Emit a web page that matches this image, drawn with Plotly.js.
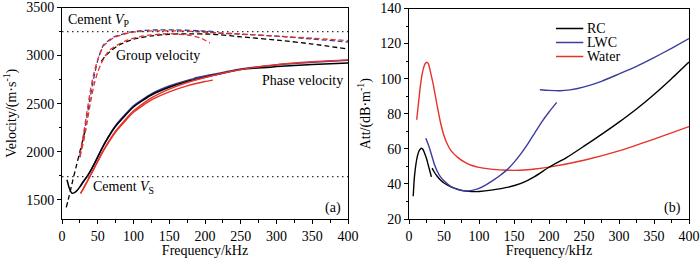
<!DOCTYPE html>
<html>
<head>
<meta charset="utf-8">
<script src="https://cdn.plot.ly/plotly-3.0.1.min.js"></script>
<style>html,body{margin:0;padding:0;background:#fff}#chart{width:700px;height:258px}</style>
</head>
<body>
<div id="chart"></div>
<script>
// ---------- (a) Velocity data ----------
// Phase velocity (solid)
const rcPhaseF   = [7,10,14,18,22,26,30,35,40,45,50,55,60,75,100,125,150,175,200,250,300,350,400];
const rcPhaseV   = [1708,1625,1568,1578,1605,1645,1690,1740,1800,1870,1945,2020,2090,2265,2465,2590,2670,2730,2775,2855,2885,2908,2922];
const lwcPhase1F = [25,30,35,40,45,50,55,60,75,100,125,150,175,200,210];
const lwcPhase1V = [1635,1693,1743,1803,1873,1948,2024,2095,2274,2478,2602,2683,2742,2786,2800];
const lwcPhase2F = [185,200,250,300,350,400];
const lwcPhase2V = [2768,2788,2860,2903,2930,2952];
const waterPhase1F = [26,30,35,40,45,50,55,60,75,100,125,150,175,200,211];
const waterPhase1V = [1565,1615,1685,1755,1825,1898,1970,2035,2205,2410,2538,2623,2685,2730,2745];
const waterPhase2F = [26,30,35,40,45,50,55,60,75,100,125,150,175,200,250,300,350,400];
const waterPhase2V = [1570,1620,1690,1760,1830,1905,1978,2042,2215,2425,2560,2652,2720,2772,2855,2905,2935,2955];
// Group velocity (dashed)
const rcGroup1F = [6,10,15,20,25,30,33];
const rcGroup1V = [1420,1540,1700,1850,2000,2150,2240];
const rcGroup2F = [55,60,70,80,100,125,150,175,211,250,305,350,400];
const rcGroup2V = [2940,2990,3060,3110,3170,3205,3222,3226,3222,3195,3158,3120,3068];
const lwcGroup1F = [25,30,35,40,44,50,58,72,95,115,137,160,185,210];
const lwcGroup1V = [1940,2150,2370,2590,2750,2950,3110,3192,3244,3262,3268,3266,3260,3252];
const lwcGroup2F = [185,211,250,305,350,400];
const lwcGroup2V = [3262,3238,3222,3200,3172,3141];
const waterGroup1F = [25,30,35,40,45,50,55,60,67,80,90,114,150,179,195,207];
const waterGroup1V = [1950,2100,2300,2520,2700,2830,2920,2990,3060,3120,3158,3205,3228,3210,3180,3130];
const waterGroup2F = [25,30,35,40,44,50,58,72,95,120,150,180,211,250,305,350,400];
const waterGroup2V = [1960,2180,2420,2650,2800,2960,3100,3185,3238,3255,3258,3252,3240,3225,3200,3180,3156];
// Reference levels
const cementVP = 3250;
const cementVS = 1740;

// ---------- (b) Attenuation data ----------
const rcAtt1F = [6,7,8,10,12,14,16,18,20,22,25,28,31,32];
const rcAtt1A = [33,40,45,51.5,55.8,58.5,59.8,60.3,59.6,57.8,54.5,50,45.5,44];
const rcAtt2F = [33,36,40,45,50,60,70,80,90,100,120,140,160,180,200,225,250,275,300,325,350,375,400];
const rcAtt2A = [49,46.8,44.5,42.2,40.5,38.3,36.9,36,35.6,35.7,36.6,38,40.3,44.3,49.5,55,61.5,68.2,75.2,82.7,91,100,109.5];
const lwcAtt1F = [24,27,30,33,36,40,45,50,60,70,80,90,100,110,120,130,140,150,160,170,180,190,200,211];
const lwcAtt1A = [66,63,59.5,55.5,51.5,47.5,44,41.8,38.5,36.8,36,36.3,37.5,39.5,42,44.8,48,52.3,57.3,63,69.3,75.5,81,86.5];
const lwcAtt2F = [187,200,216,230,249,275,300,325,350,375,400];
const lwcAtt2A = [93.7,93.3,93.1,93.6,95.2,98.5,102.7,107,112,117.3,122.9];
const waterAttF = [11,13,16,19,22,24,26,28,30,35,40,45,50,55,60,70,80,90,100,120,140,160,180,200,250,300,350,400];
const waterAttA = [76.6,84,95,103,107.6,109,109.3,108.3,105,96,85,75,67.5,62.5,59,55,52.3,50.5,49.4,48.3,47.8,47.8,48.5,49.6,53.5,58.8,65.5,72.7];

const legendNames = ['RC','LWC','Water'];

const BLACK = '#000000', BLUE = '#3c3c9c', RED = '#e5322a';
const FONT = 'Liberation Serif, Times New Roman, serif';

function line(x, y, color, dash, xa, ya, width) {
  return {x: x, y: y, type: 'scatter', mode: 'lines', xaxis: xa, yaxis: ya,
          line: {color: color, width: width || 1.4, dash: dash || 'solid', shape: 'spline', smoothing: 0.5},
          showlegend: false, hoverinfo: 'skip'};
}
const D = '5px,3px';
const traces = [
  // group velocity (dashed)
  line(lwcGroup1F, lwcGroup1V, BLUE, D, 'x', 'y', 1.3),
  line(lwcGroup2F, lwcGroup2V, BLUE, D, 'x', 'y', 1.3),
  line(rcGroup1F, rcGroup1V, BLACK, D, 'x', 'y', 1.3),
  line(rcGroup2F, rcGroup2V, BLACK, D, 'x', 'y', 1.3),
  line(waterGroup2F, waterGroup2V, RED, D, 'x', 'y', 1.3),
  line(waterGroup1F, waterGroup1V, RED, D, 'x', 'y', 1.3),
  // phase velocity (solid)
  line(lwcPhase1F, lwcPhase1V, BLUE, 'solid', 'x', 'y', 1.5),
  line(lwcPhase2F, lwcPhase2V, BLUE, 'solid', 'x', 'y', 1.5),
  line(waterPhase1F, waterPhase1V, RED, 'solid', 'x', 'y', 1.4),
  line(rcPhaseF, rcPhaseV, BLACK, 'solid', 'x', 'y', 1.5),
  line(waterPhase2F, waterPhase2V, RED, 'solid', 'x', 'y', 1.4),
  // cement reference lines
  {x: [0, 400], y: [cementVP, cementVP], type: 'scatter', mode: 'lines', xaxis: 'x', yaxis: 'y',
   line: {color: '#333', width: 1.2, dash: '1.5px,3.5px'}, showlegend: false, hoverinfo: 'skip'},
  {x: [0, 400], y: [cementVS, cementVS], type: 'scatter', mode: 'lines', xaxis: 'x', yaxis: 'y',
   line: {color: '#333', width: 1.2, dash: '1.5px,3.5px'}, showlegend: false, hoverinfo: 'skip'},
  // attenuation
  line(waterAttF, waterAttA, RED, 'solid', 'x2', 'y2', 1.4),
  line(rcAtt1F, rcAtt1A, BLACK, 'solid', 'x2', 'y2', 1.4),
  line(rcAtt2F, rcAtt2A, BLACK, 'solid', 'x2', 'y2', 1.4),
  line(lwcAtt1F, lwcAtt1A, BLUE, 'solid', 'x2', 'y2', 1.4),
  line(lwcAtt2F, lwcAtt2A, BLUE, 'solid', 'x2', 'y2', 1.4)
];

const tickFont = {family: FONT, size: 14, color: '#000'};
function xax(domain, anchor) {
  return {domain: domain, anchor: anchor, range: [0, 400], dtick: 50, tick0: 0,
    ticks: 'outside', ticklen: 4, tickwidth: 1, tickcolor: '#000',
    minor: {ticks: 'outside', ticklen: 2.5, dtick: 25, tickcolor: '#000', tickwidth: 1},
    showline: true, linecolor: '#000', linewidth: 1, mirror: true,
    showgrid: false, zeroline: false, tickfont: tickFont, automargin: false,
    title: {text: 'Frequency/kHz', font: {family: FONT, size: 14, color: '#000'}, standoff: 2}};
}
function yax(domain, anchor, range, dtick, minorD, title, standoff) {
  return {domain: domain, anchor: anchor, range: range, dtick: dtick,
    ticks: 'outside', ticklen: 4, tickwidth: 1, tickcolor: '#000',
    minor: {ticks: 'outside', ticklen: 2.5, dtick: minorD, tickcolor: '#000', tickwidth: 1},
    showline: true, linecolor: '#000', linewidth: 1, mirror: true,
    showgrid: false, zeroline: false, tickfont: tickFont, automargin: false,
    title: {text: title, font: {family: FONT, size: 14, color: '#000'}, standoff: standoff}};
}

const annFont = {family: FONT, size: 14, color: '#000'};
function ann(text, x, y, xa, ya, xanchor) {
  return {text: text, x: x, y: y, xref: xa, yref: ya, showarrow: false,
          xanchor: xanchor || 'left', yanchor: 'middle', font: annFont};
}

const legendColors = [BLACK, BLUE, RED];
const legendY = [128.6, 120.6, 112.6];
const shapes = [], annotations = [
  ann('Cement <i>V</i><sub>P</sub>', 5, 3368, 'x', 'y'),
  ann('Group velocity', 73, 3000, 'x', 'y'),
  ann('Phase velocity', 277, 2744, 'x', 'y'),
  ann('Cement <i>V</i><sub>S</sub>', 41, 1630, 'x', 'y'),
  ann('(a)', 393, 1418, 'x', 'y', 'right'),
  ann('(b)', 391, 26.3, 'x2', 'y2', 'right')
];
legendNames.forEach(function (n, i) {
  shapes.push({type: 'line', xref: 'x2', yref: 'y2', x0: 210, x1: 249, y0: legendY[i], y1: legendY[i],
               line: {color: legendColors[i], width: 1.4}});
  annotations.push(ann(n, 252, legendY[i], 'x2', 'y2'));
});

const layout = {
  width: 700, height: 258,
  margin: {l: 0, r: 0, t: 0, b: 0},
  paper_bgcolor: '#fff', plot_bgcolor: '#fff',
  showlegend: false,
  font: {family: FONT, size: 14, color: '#000'},
  xaxis: xax([62/700, 348/700], 'y'),
  yaxis: yax([1 - 219/258, 1 - 7.5/258], 'x', [1300, 3500], 500, 250, 'Velocity/(m·s<sup>-1</sup>)', 6),
  xaxis2: xax([409/700, 689/700], 'y2'),
  yaxis2: yax([1 - 219/258, 1 - 8.5/258], 'x2', [20, 140], 20, 10, 'Att/(dB·m<sup>-1</sup>)', 6),
  shapes: shapes,
  annotations: annotations
};

Plotly.newPlot('chart', traces, layout, {staticPlot: true, displayModeBar: false});
</script>
</body>
</html>
